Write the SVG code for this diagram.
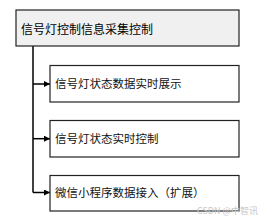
<svg xmlns="http://www.w3.org/2000/svg" width="267" height="220" viewBox="0 0 267 220">
<style>
.box{fill:#ffffff;stroke:#222;stroke-width:1.2}
.root{fill:#f0f0f0;stroke:#222;stroke-width:1.2}
.t{font-family:"Noto Sans CJK SC","Noto Sans",sans-serif;font-size:11.5px;fill:#111}
.tr{font-family:"Noto Sans CJK SC","Noto Sans",sans-serif;font-size:12px;fill:#000}
.c{fill:none;stroke:#000;stroke-width:1.5}
.wm{font-family:"Noto Sans CJK SC","Noto Sans",sans-serif;font-size:9px;fill:#c8c8c8}
</style>
<defs>
<marker id="ah" viewBox="0 0 10 10" refX="10" refY="5" markerWidth="6" markerHeight="6" markerUnits="userSpaceOnUse" orient="auto">
<path d="M0,0 L10,5 L0,10 z" fill="#000"/>
</marker>
</defs>
<rect width="267" height="220" fill="#fff"/>
<g id="connectors">
<path class="c" d="M33,46 V192.5"/>
<path class="c" d="M33,84 H50" marker-end="url(#ah)"/>
<path class="c" d="M33,138.7 H50" marker-end="url(#ah)"/>
<path class="c" d="M33,192.5 H50" marker-end="url(#ah)"/>
</g>
<g id="root">
<rect class="root" x="16" y="10" width="223" height="36"/>
<text class="tr" x="21" y="33.5">信号灯控制信息采集控制</text>
</g>
<g id="n1">
<rect class="box" x="50" y="65.5" width="189" height="36.5"/>
<text class="t" x="55" y="87.5">信号灯状态数据实时展示</text>
</g>
<g id="n2">
<rect class="box" x="50" y="120.5" width="189" height="36.5"/>
<text class="t" x="55" y="142.5">信号灯状态实时控制</text>
</g>
<g id="n3">
<rect class="box" x="50" y="175.5" width="189" height="35.5"/>
<text class="t" x="55" y="196.5">微信小程序数据接入（扩展）</text>
</g>
<text class="wm" x="197" y="214">CSDN @中智讯</text>
</svg>
